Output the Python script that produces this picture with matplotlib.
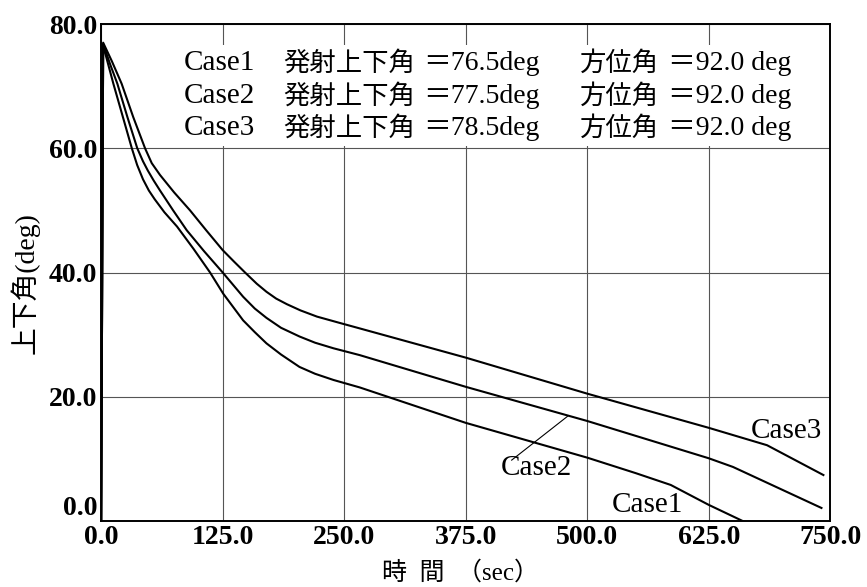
import numpy as np
import matplotlib
matplotlib.use("Agg")
import matplotlib.pyplot as plt

plt.rcParams['font.family'] = ['Liberation Serif', 'Noto Sans CJK JP']

# Time histories of the pitch angle for the three launch cases
t_case1 = [0, 2, 6, 12.5, 20, 31.5, 37, 43, 49, 55, 65, 78, 95, 112, 125.5,
           146, 158, 170, 185, 204, 220, 239, 266, 375, 500, 550, 586, 625, 668]
v_case1 = [0, 76.6, 74.2, 70.4, 66.3, 60.0, 57.3, 55.0, 53.2, 51.8, 49.7, 47.4,
           43.8, 40.0, 36.6, 32.3, 30.4, 28.6, 26.8, 24.8, 23.7, 22.7, 21.5,
           15.8, 10.2, 7.7, 5.8, 2.6, -0.6]

t_case2 = [0, 2, 9, 16.6, 27, 37.1, 43, 48, 54, 60.5, 74, 88, 106, 125, 146,
           158, 170, 185, 204, 220, 239, 266, 375, 500, 625, 650, 741]
v_case2 = [0, 76.8, 73.6, 70.4, 65.0, 60.0, 57.9, 56.4, 54.8, 53.2, 50.0, 46.8,
           43.4, 40.0, 36.1, 34.2, 32.7, 31.1, 29.7, 28.7, 27.8, 26.7, 21.6,
           16.1, 10.1, 8.7, 2.1]

t_case3 = [0, 2, 11, 21, 33, 45.1, 52, 60.5, 75, 91.4, 108, 125, 137, 148, 160,
           170, 180, 191, 205, 222, 245, 266, 375, 500, 625, 685, 743]
v_case3 = [0, 77.0, 74.0, 70.4, 65.0, 60.0, 57.6, 55.7, 52.9, 50.0, 46.8, 43.6,
           41.7, 40.0, 38.2, 36.9, 35.8, 34.9, 33.9, 32.9, 31.9, 31.0, 26.3,
           20.5, 15.0, 12.2, 7.4]

x_ticks = [0, 125, 250, 375, 500, 625, 750]
y_ticks = [0, 20, 40, 60, 80]

case_names = ["Case1", "Case2", "Case3"]
launch_elev = [76.5, 77.5, 78.5]
azimuth = [92.0, 92.0, 92.0]

fig = plt.figure(figsize=(8.67, 5.87), dpi=100)
ax = fig.add_axes([101.2 / 867, 66 / 587, 729 / 867, 497 / 587])

ax.set_xlim(0, 750)
ax.set_ylim(0, 80)
ax.set_xticks(x_ticks)
ax.set_yticks(y_ticks)
ax.set_xticklabels([f"{v:.1f}" for v in x_ticks])
ax.set_yticklabels([f"{v:.1f}" for v in y_ticks])
ax.tick_params(length=0, labelsize=20, pad=3)
for lab in ax.get_xticklabels() + ax.get_yticklabels():
    lab.set_fontweight('bold')
ax.get_yticklabels()[0].set_verticalalignment('bottom')

ax.grid(True, color='#555555', linewidth=0.8)
ax.set_axisbelow(True)
for sp in ax.spines.values():
    sp.set_linewidth(1.4)
    sp.set_color('black')

# white panel behind the case table hides the grid
ax.add_patch(plt.Rectangle((78, 60.4), 672, 16.2, facecolor='white',
                           edgecolor='none', zorder=1.5))

for t, v in [(t_case1, v_case1), (t_case2, v_case2), (t_case3, v_case3)]:
    ax.plot(t, v, color='black', linewidth=1.5, zorder=3,
            solid_joinstyle='round')

# case table
rows_y = [73.7, 68.4, 63.2]
for name, el, az, y in zip(case_names, launch_elev, azimuth, rows_y):
    ax.text(84.5, y, name, fontsize=21, va='center', zorder=4)
    ax.text(187.3, y, "発射上下角", fontsize=19, va='center', zorder=4)
    ax.text(331, y, f"＝{el:.1f}deg", fontsize=20, va='center', zorder=4)
    ax.text(492.6, y, "方位角", fontsize=19, va='center', zorder=4)
    ax.text(583, y, f"＝{az:.1f} deg", fontsize=20, va='center', zorder=4)

# curve labels
ax.text(562, 2.6, "Case1", fontsize=21, ha='center', va='center', zorder=4)
ax.text(705, 14.5, "Case3", fontsize=21, ha='center', va='center', zorder=4)
ax.text(448, 8.5, "Case2", fontsize=21, ha='center', va='center', zorder=4)
leader_t = 480.6
ax.plot([422.3, leader_t], [9.8, np.interp(leader_t, t_case2, v_case2)],
        color='black', linewidth=0.8, zorder=3)

fig.text(461 / 867, 1 - 573 / 587, "時  間  （sec）", fontsize=18,
         ha='center', va='center')
fig.text(25 / 867, 1 - 283 / 587, "上下角(deg)", fontsize=20, rotation=90,
         ha='center', va='center')

fig.savefig("out.png", dpi=100)
